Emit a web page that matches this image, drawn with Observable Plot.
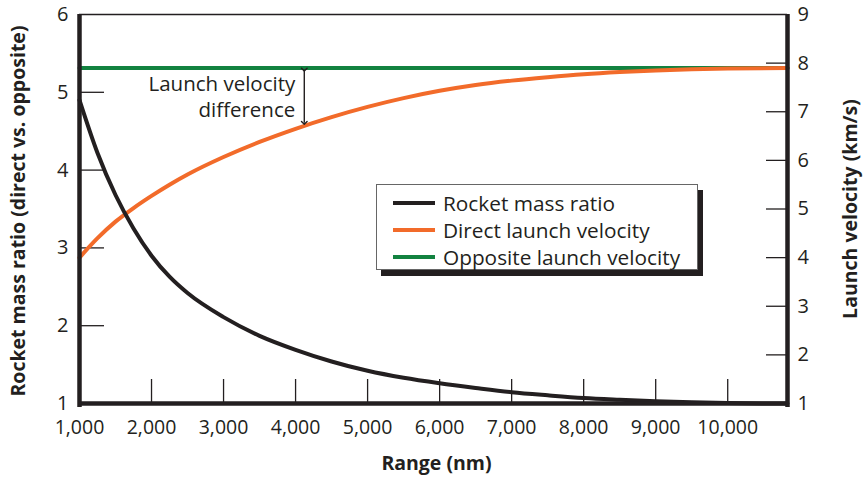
<!DOCTYPE html>
<html>
<head>
<meta charset="utf-8">
<script src="https://cdn.jsdelivr.net/npm/d3@7"></script>
<script src="https://cdn.jsdelivr.net/npm/@observablehq/plot@0.6"></script>
<style>
  html, body { margin: 0; padding: 0; background: #fff; }
  #chart { position: relative; width: 863px; height: 482px; font-family: "Open Sans", sans-serif; color: #231f20; }
  #legend {
    position: absolute; left: 376px; top: 184px; width: 322px; height: 86px;
    border: 1.5px solid #666; background: #fff; box-shadow: 5px 6px 0 #231f20;
    box-sizing: border-box;
  }
  .row { position: absolute; left: 16px; height: 26px; display: flex; align-items: center; font-size: 20.8px; white-space: nowrap; }
  .swatch { width: 42px; height: 4px; margin-right: 8px; flex: none; }
</style>
</head>
<body>
<div id="chart"></div>
<script>
// Range in nautical miles
const range = [1000, 1250, 1500, 1750, 2000, 2250, 2500, 3000, 3500, 4000, 4500, 5000, 5500, 6000, 6500, 7000, 7500, 8000, 8500, 9000, 9500, 10000, 10830];
// Rocket mass ratio, direct vs. opposite (left axis)
const massRatio = [4.90, 4.22, 3.68, 3.25, 2.90, 2.63, 2.42, 2.11, 1.87, 1.69, 1.54, 1.42, 1.33, 1.26, 1.20, 1.145, 1.105, 1.07, 1.048, 1.03, 1.015, 1.005, 1.0];
// Direct launch velocity, km/s (right axis)
const directVel = [4.00, 4.40, 4.74, 5.02, 5.27, 5.50, 5.71, 6.07, 6.38, 6.65, 6.89, 7.10, 7.28, 7.43, 7.55, 7.64, 7.71, 7.77, 7.815, 7.85, 7.875, 7.89, 7.90];
// Opposite launch velocity, km/s (right axis)
const oppositeVel = 7.90;

const xTicks = [1000, 2000, 3000, 4000, 5000, 6000, 7000, 8000, 9000, 10000];
const leftTicks = [1, 2, 3, 4, 5, 6];
const rightTicks = [1, 2, 3, 4, 5, 6, 7, 8, 9];

// Annotation: "Launch velocity difference" arrow at this range
const diffRange = 4121;
const diffLines = [
  {text: "Launch velocity", y: 5.10},
  {text: "difference", y: 4.765}
];
const diffLabelX = 3996;

const colors = {mass: "#231f20", direct: "#f26b2a", opposite: "#128240"};

// Map a velocity (1..9 km/s) onto the mass-ratio scale (1..6)
const vToY = (v) => 1 + (v - 1) * 5 / 8;
const yToV = (y) => 1 + (y - 1) * 8 / 5;

const massData = range.map((r, i) => ({r, y: massRatio[i]}));
const directData = range.map((r, i) => ({r, y: vToY(directVel[i])}));
const oppositeData = [range[0], range[range.length - 1]].map((r) => ({r, y: vToY(oppositeVel)}));

const directAt = (r) => {
  const i = d3.bisectRight(range, r) - 1;
  const t = (r - range[i]) / (range[i + 1] - range[i]);
  return directVel[i] + t * (directVel[i + 1] - directVel[i]);
};

const W = 863, H = 482;
const mL = 79, mR = 76, mT = 14, mB = 79;
const plotW = W - mL - mR, plotH = H - mT - mB;
const ink = "#231f20";

const chart = Plot.plot({
  width: W,
  height: H,
  marginLeft: mL,
  marginRight: mR,
  marginTop: mT,
  marginBottom: mB,
  style: {fontFamily: "'Open Sans', sans-serif", color: ink, background: "#fff"},
  x: {domain: [1000, 10830]},
  y: {domain: [1, 6]},
  marks: [
    // inner tick marks
    Plot.tickY(leftTicks.slice(1, -1), {y: (d) => d, stroke: ink, strokeWidth: 1.3, insetRight: plotW - 25}),
    Plot.tickY(rightTicks.slice(1, -1).map(vToY), {y: (d) => d, stroke: ink, strokeWidth: 1.3, insetLeft: plotW - 21}),
    Plot.tickX(xTicks.slice(1), {x: (d) => d, stroke: ink, strokeWidth: 1.3, insetTop: plotH - 24}),

    // tick labels
    Plot.axisX(xTicks, {tickSize: 0, tickPadding: 17, fontSize: 19.5, tickFormat: d3.format(","), fill: ink, label: null}),
    Plot.axisY(leftTicks, {anchor: "left", tickSize: 0, tickPadding: 11, fontSize: 20, tickFormat: (d) => d, fill: ink, label: null}),
    Plot.axisY(rightTicks.map(vToY), {anchor: "right", tickSize: 0, tickPadding: 10, fontSize: 20, tickFormat: (d) => Math.round(yToV(d)), fill: ink, label: null}),

    // series
    Plot.line(oppositeData, {x: "r", y: "y", stroke: colors.opposite, strokeWidth: 4}),
    Plot.line(directData, {x: "r", y: "y", stroke: colors.direct, strokeWidth: 4, curve: "monotone-x"}),
    Plot.line(massData, {x: "r", y: "y", stroke: colors.mass, strokeWidth: 4, curve: "monotone-x"}),

    // velocity difference annotation
    Plot.link([0], {
      x1: diffRange, x2: diffRange,
      y1: vToY(oppositeVel) - 0.02, y2: vToY(directAt(diffRange)) + 0.04,
      stroke: ink, strokeWidth: 1.4, markerStart: "arrow", markerEnd: "arrow"
    }),
    Plot.text(diffLines, {x: diffLabelX, y: "y", text: "text", textAnchor: "end", fontSize: 20.5, fill: ink}),

    // plot frame
    Plot.ruleY([6], {stroke: ink, strokeWidth: 1.5}),
    Plot.ruleY([1], {stroke: ink, strokeWidth: 4.5}),
    Plot.ruleX([1000], {stroke: ink, strokeWidth: 4.5, y1: 0.95, y2: 6}),
    Plot.ruleX([10830], {stroke: ink, strokeWidth: 4.5, y1: 0.95, y2: 6}),

    // axis titles
    Plot.text(["Range (nm)"], {frameAnchor: "bottom", dy: 66, dx: 3, text: (d) => d, fontSize: 19.5, fontWeight: "bold", fill: ink}),
    Plot.text(["Rocket mass ratio (direct vs. opposite)"], {frameAnchor: "left", dx: -61, dy: 2, text: (d) => d, rotate: -90, textAnchor: "middle", fontSize: 19.5, fontWeight: "bold", fill: ink}),
    Plot.text(["Launch velocity (km/s)"], {frameAnchor: "right", dx: 63, text: (d) => d, rotate: -90, textAnchor: "middle", fontSize: 19.5, fontWeight: "bold", fill: ink})
  ]
});

const root = document.getElementById("chart");
root.appendChild(chart);

// Legend box with drop shadow
const legendItems = [
  {label: "Rocket mass ratio", color: colors.mass},
  {label: "Direct launch velocity", color: colors.direct},
  {label: "Opposite launch velocity", color: colors.opposite}
];
const legend = document.createElement("div");
legend.id = "legend";
legendItems.forEach((item, i) => {
  const row = document.createElement("div");
  row.className = "row";
  row.style.top = (5 + i * 27) + "px";
  const sw = document.createElement("span");
  sw.className = "swatch";
  sw.style.background = item.color;
  const tx = document.createElement("span");
  tx.textContent = item.label;
  row.appendChild(sw);
  row.appendChild(tx);
  legend.appendChild(row);
});
root.appendChild(legend);
</script>
</body>
</html>
